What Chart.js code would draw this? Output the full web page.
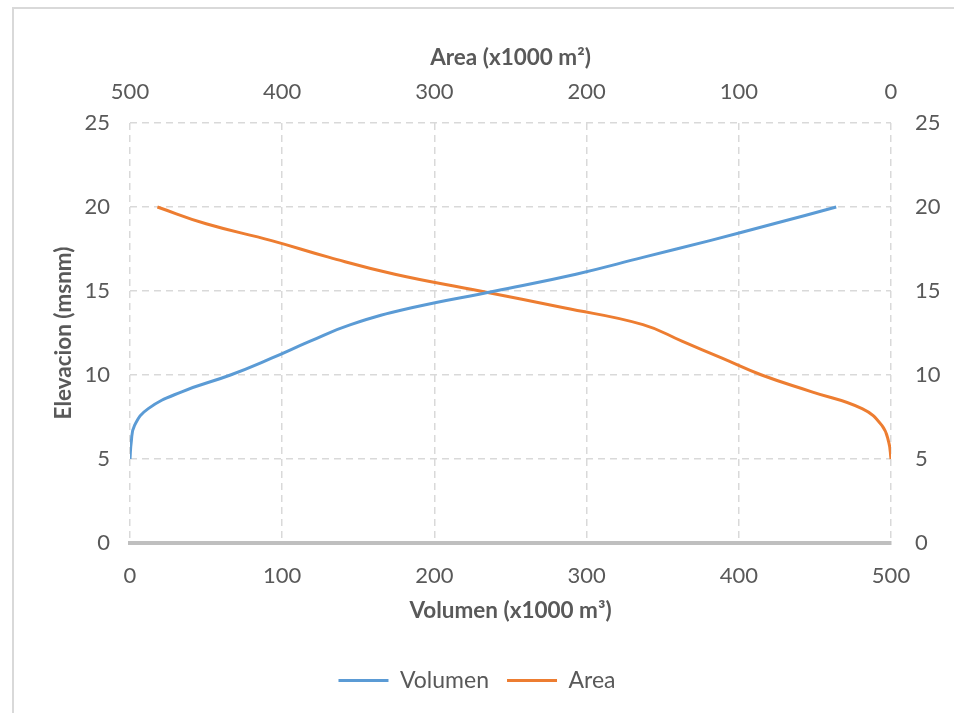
<!DOCTYPE html>
<html>
<head>
<meta charset="utf-8">
<script src="https://cdn.jsdelivr.net/npm/chart.js@4"></script>
<style>
  html, body { margin: 0; padding: 0; background: #ffffff; }
  #frame { position: absolute; left: 12px; top: 7px; width: 960px; height: 720px;
           border-left: 2px solid #d9d9d9; border-top: 2px solid #d9d9d9; }
  #chart { position: absolute; left: 0; top: 0; }
</style>
</head>
<body>
<div id="frame"></div>
<canvas id="chart" width="954" height="713"></canvas>
<script>
// Elevation (msnm) for each reading
const elevacion = [5, 6, 7, 8, 9, 10, 11, 12, 13, 14, 15, 16, 17, 18, 19, 20];
// Stored volume at each elevation (x1000 m³)
const volumen = [0, 0.8, 3, 12, 34, 66, 93, 118, 145, 185, 240, 293, 337, 381, 423, 464];
// Flooded area at each elevation (x1000 m²)
const area = [0, 1.5, 6, 19, 52, 85, 111, 137, 163, 215, 270, 326, 369, 407, 450, 482];
// Axis ranges and steps
const xTicks = [0, 100, 200, 300, 400, 500];
const yTicks = [0, 5, 10, 15, 20, 25];

const TEXT = '#595959';
const GRID = '#d9d9d9';
const FONT = 'Lato, "Open Sans", sans-serif';
const TICK_FONT = { family: FONT, size: 22 };
const TITLE_FONT = { family: FONT, size: 22.5, weight: 'bold' };

const toPoints = (xs) => xs.map((v, i) => ({ x: v, y: elevacion[i] }));

new Chart(document.getElementById('chart'), {
  type: 'line',
  data: {
    datasets: [
      {
        label: 'Volumen',
        data: toPoints(volumen),
        xAxisID: 'x',
        yAxisID: 'y',
        borderColor: '#5b9bd5',
        backgroundColor: '#5b9bd5',
        borderWidth: 3,
        pointRadius: 0,
        tension: 0.45,
        fill: false
      },
      {
        label: 'Area',
        data: toPoints(area),
        xAxisID: 'x2',
        yAxisID: 'y',
        borderColor: '#ed7d31',
        backgroundColor: '#ed7d31',
        borderWidth: 3,
        pointRadius: 0,
        tension: 0.45,
        fill: false
      }
    ]
  },
  options: {
    responsive: false,
    animation: false,
    layout: { padding: { bottom: 11 } },
    plugins: {
      tooltip: { enabled: false },
      legend: {
        position: 'bottom',
        labels: {
          usePointStyle: true,
          pointStyle: 'line',
          pointStyleWidth: 50,
          padding: 18,
          color: TEXT,
          font: { family: FONT, size: 23 }
        }
      }
    },
    scales: {
      x: {
        type: 'linear',
        position: 'bottom',
        min: xTicks[0],
        max: xTicks[xTicks.length - 1],
        afterBuildTicks: (s) => { s.ticks = xTicks.map(v => ({ value: v })); },
        afterFit: (s) => { s.height = 108; },
        ticks: { color: TEXT, font: TICK_FONT, padding: 20, maxRotation: 0 },
        grid: { color: GRID, lineWidth: 1.5, drawTicks: false },
        border: { display: true, color: '#bfbfbf', width: 4, dash: [7, 5] },
        title: {
          display: true,
          text: 'Volumen (x1000 m³)',
          color: TEXT,
          font: TITLE_FONT,
          padding: { top: 0, bottom: 27 }
        }
      },
      x2: {
        type: 'linear',
        position: 'top',
        reverse: true,
        min: xTicks[0],
        max: xTicks[xTicks.length - 1],
        afterBuildTicks: (s) => { s.ticks = xTicks.map(v => ({ value: v })); },
        afterFit: (s) => { s.height = 123; },
        ticks: { color: TEXT, font: TICK_FONT, padding: 18, maxRotation: 0 },
        grid: { display: false, drawTicks: false },
        border: { display: false },
        title: {
          display: true,
          text: 'Area (x1000 m²)',
          color: TEXT,
          font: TITLE_FONT,
          padding: { top: 44, bottom: 0 }
        }
      },
      y: {
        type: 'linear',
        position: 'left',
        min: yTicks[0],
        max: yTicks[yTicks.length - 1],
        afterBuildTicks: (s) => { s.ticks = yTicks.map(v => ({ value: v })); },
        afterFit: (s) => { s.width = 130; },
        ticks: { color: TEXT, font: TICK_FONT, padding: 20 },
        grid: {
          color: (c) => (c.tick && c.tick.value === 0 ? 'rgba(0,0,0,0)' : GRID),
          lineWidth: 1.5,
          drawTicks: false
        },
        border: { display: false, dash: [7, 5] },
        title: {
          display: true,
          text: 'Elevacion (msnm)',
          color: TEXT,
          font: TITLE_FONT,
          padding: { top: 50, bottom: 0 }
        }
      },
      y2: {
        type: 'linear',
        position: 'right',
        min: yTicks[0],
        max: yTicks[yTicks.length - 1],
        afterBuildTicks: (s) => { s.ticks = yTicks.map(v => ({ value: v })); },
        afterFit: (s) => { s.width = 63; },
        ticks: { color: TEXT, font: TICK_FONT, padding: 24 },
        grid: { display: false, drawTicks: false },
        border: { display: false }
      }
    }
  }
});
</script>
</body>
</html>
